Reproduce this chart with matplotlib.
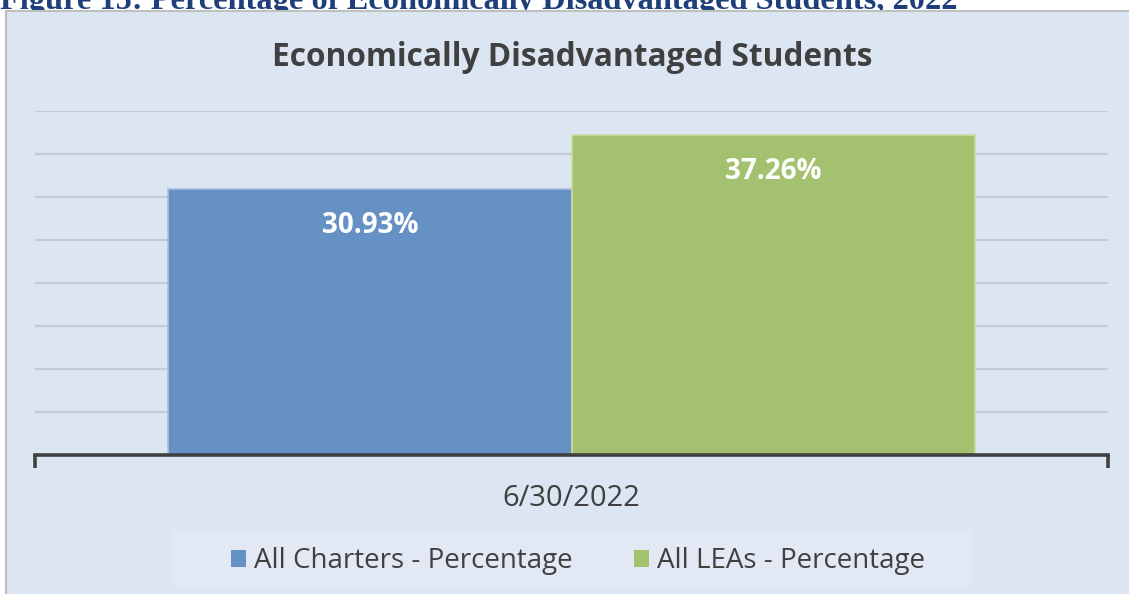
"""Economically disadvantaged students: all charters vs all LEAs, 6/30/2022."""

import matplotlib.pyplot as plt
from matplotlib.patches import Rectangle

# data
category = '6/30/2022'
series_names = ['All Charters - Percentage', 'All LEAs - Percentage']
series_values = [30.93, 37.26]
series_colors = ['#6691C5', '#A3C16F']
edge_colors = ['#A9C0DE', '#C8DCA4']

plt.rcParams['font.family'] = ['Open Sans', 'DejaVu Sans']

W, H = 1129, 594
fig = plt.figure(figsize=(W / 100, H / 100), dpi=100)
fig.patch.set_facecolor('white')

# report caption, mostly hidden behind the chart panel
fig.text(0.0, 1 - 9 / H, 'Figure 15: Percentage of Economically Disadvantaged Students, 2022',
         family='Liberation Serif', weight='bold', fontsize=23.3, color='#1F3F7A',
         ha='left', va='baseline', zorder=3)

# chart panel and legend background
panel = Rectangle((6 / W, -0.01), 1.0, 1 - 11 / H + 0.01, transform=fig.transFigure,
                  facecolor='#DCE6F2', edgecolor='#BFBFBF', lw=1.5, zorder=4)
fig.patches.append(panel)
leg_bg = Rectangle((173 / W, 1 - 587 / H), 798 / W, 55 / H, transform=fig.transFigure,
                   facecolor='#E2E9F4', edgecolor='none', zorder=4.5)
fig.patches.append(leg_bg)

ax = fig.add_axes([35 / W, (H - 455) / H, 1073 / W, (455 - 111) / H])
ax.set_zorder(5)
ax.set_facecolor('none')

width = 0.376
offsets = [-width / 2, width / 2]
for name, val, col, ec, off in zip(series_names, series_values, series_colors, edge_colors, offsets):
    ax.bar(off, val, width=width, color=col, edgecolor=ec, lw=1.2, label=name, zorder=2)
    ax.text(off, val - 4.25, '{:.2f}%'.format(val), ha='center', va='center',
            color='white', weight='bold', fontsize=20, zorder=3)

ax.set_xlim(-0.5, 0.5)
ax.set_ylim(0, 40)
ax.set_yticks(range(5, 41, 5))
ax.yaxis.grid(True, color='#C3CBD6', lw=1.6)
ax.set_axisbelow(True)
ax.tick_params(axis='y', length=0, labelleft=False)

for s in ['top', 'right', 'left']:
    ax.spines[s].set_visible(False)
ax.spines['bottom'].set_color('#404040')
ax.spines['bottom'].set_linewidth(2.6)

# end ticks on the category axis, and the category label
ax.set_xticks([-0.5, 0.5], labels=['', ''])
ax.tick_params(axis='x', which='major', length=9, width=2.6, color='#404040', direction='out')
ax.set_xticks([0], labels=[category], minor=True)
ax.tick_params(axis='x', which='minor', length=0, pad=21, labelsize=21, labelcolor='#404040')

fig.text(572 / W, 1 - 57 / H, 'Economically Disadvantaged Students', ha='center', va='center',
         weight='bold', fontsize=22.8, color='#404040', zorder=6)

leg = ax.legend(loc='center', bbox_to_anchor=(578 / W, 1 - 561 / H),
                bbox_transform=fig.transFigure, ncol=2, frameon=False,
                fontsize=20, handlelength=0.55, handleheight=0.55, handletextpad=0.3,
                columnspacing=2.2, borderpad=0, borderaxespad=0,
                labelcolor='#404040')
for h in leg.legend_handles:
    h.set_edgecolor('none')

plt.savefig('out.png', dpi=100)
